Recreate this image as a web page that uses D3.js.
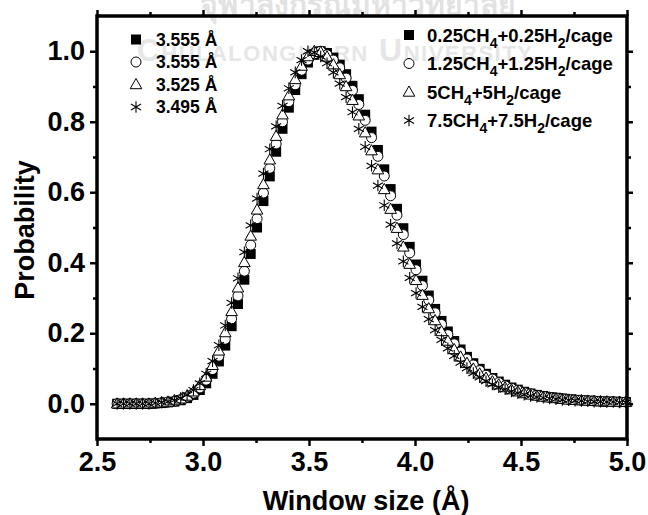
<!DOCTYPE html>
<html>
<head>
<meta charset="utf-8">
<script src="https://cdn.jsdelivr.net/npm/d3@7"></script>
<style>
body { margin: 0; background: #fff; }
svg { display: block; font-family: "Liberation Sans", Arial, sans-serif; font-weight: bold; }
</style>
</head>
<body>
<svg id="chart" width="648" height="515"></svg>
<script>
// window size grid (Å)
var windowSize = [2.595, 2.625, 2.655, 2.685, 2.715, 2.745, 2.775, 2.805, 2.835, 2.865,
    2.895, 2.925, 2.955, 2.985, 3.015, 3.045, 3.075, 3.105, 3.135, 3.165,
    3.195, 3.225, 3.255, 3.285, 3.315, 3.345, 3.375, 3.405, 3.435, 3.465,
    3.495, 3.525, 3.555, 3.585, 3.615, 3.645, 3.675, 3.705, 3.735, 3.765,
    3.795, 3.825, 3.855, 3.885, 3.915, 3.945, 3.975, 4.005, 4.035, 4.065,
    4.095, 4.125, 4.155, 4.185, 4.215, 4.245, 4.275, 4.305, 4.335, 4.365,
    4.395, 4.425, 4.455, 4.485, 4.515, 4.545, 4.575, 4.605, 4.635, 4.665,
    4.695, 4.725, 4.755, 4.785, 4.815, 4.845, 4.875, 4.905, 4.935, 4.965, 4.995];

// probability, one list per loading
var prob025 = [0, 0, 0, 0, 0, 0, 0.001, 0.002, 0.004, 0.006,
    0.010, 0.016, 0.025, 0.039, 0.058, 0.085, 0.120, 0.165, 0.220, 0.283,
    0.352, 0.425, 0.500, 0.575, 0.645, 0.715, 0.780, 0.840, 0.890, 0.935,
    0.968, 0.990, 1.000, 0.995, 0.982, 0.962, 0.935, 0.902, 0.864, 0.820,
    0.772, 0.720, 0.665, 0.609, 0.553, 0.498, 0.445, 0.395, 0.349, 0.307,
    0.269, 0.235, 0.205, 0.178, 0.154, 0.133, 0.115, 0.099, 0.085, 0.073,
    0.063, 0.054, 0.046, 0.040, 0.034, 0.029, 0.025, 0.022, 0.019, 0.017,
    0.015, 0.013, 0.011, 0.010, 0.009, 0.008, 0.007, 0.006, 0.006, 0.005, 0.005];
var prob125 = [0, 0, 0, 0, 0, 0, 0.001, 0.003, 0.005, 0.007,
    0.012, 0.019, 0.030, 0.045, 0.067, 0.097, 0.135, 0.183, 0.241, 0.306,
    0.376, 0.450, 0.525, 0.598, 0.668, 0.737, 0.800, 0.857, 0.905, 0.946,
    0.975, 0.993, 1.000, 0.990, 0.975, 0.953, 0.924, 0.889, 0.849, 0.804,
    0.755, 0.702, 0.646, 0.590, 0.535, 0.480, 0.428, 0.380, 0.335, 0.294,
    0.258, 0.225, 0.196, 0.170, 0.147, 0.127, 0.110, 0.094, 0.081, 0.070,
    0.060, 0.051, 0.044, 0.038, 0.032, 0.028, 0.024, 0.021, 0.018, 0.016,
    0.014, 0.012, 0.011, 0.010, 0.009, 0.008, 0.007, 0.006, 0.006, 0.005, 0.005];
var prob5 = [0, 0, 0, 0, 0, 0, 0.002, 0.003, 0.005, 0.009,
    0.014, 0.022, 0.034, 0.052, 0.076, 0.109, 0.150, 0.202, 0.262, 0.329,
    0.401, 0.476, 0.550, 0.622, 0.692, 0.759, 0.820, 0.874, 0.920, 0.958,
    0.985, 1.000, 0.997, 0.984, 0.962, 0.934, 0.900, 0.861, 0.817, 0.769,
    0.718, 0.664, 0.608, 0.552, 0.498, 0.445, 0.396, 0.350, 0.308, 0.270,
    0.236, 0.205, 0.178, 0.154, 0.133, 0.115, 0.099, 0.085, 0.073, 0.063,
    0.054, 0.046, 0.040, 0.034, 0.029, 0.025, 0.022, 0.019, 0.017, 0.015,
    0.013, 0.011, 0.010, 0.009, 0.008, 0.007, 0.006, 0.006, 0.005, 0.005, 0.004];
var prob75 = [0, 0, 0, 0, 0, 0, 0.002, 0.004, 0.006, 0.010,
    0.016, 0.025, 0.039, 0.058, 0.085, 0.121, 0.166, 0.222, 0.286, 0.356,
    0.430, 0.506, 0.582, 0.653, 0.722, 0.787, 0.845, 0.895, 0.940, 0.975,
    1.000, 0.997, 0.985, 0.966, 0.940, 0.908, 0.870, 0.827, 0.780, 0.729,
    0.675, 0.619, 0.563, 0.508, 0.455, 0.404, 0.357, 0.314, 0.275, 0.240,
    0.209, 0.181, 0.157, 0.136, 0.117, 0.101, 0.087, 0.075, 0.064, 0.055,
    0.047, 0.041, 0.035, 0.030, 0.026, 0.022, 0.019, 0.017, 0.015, 0.013,
    0.011, 0.010, 0.009, 0.008, 0.007, 0.006, 0.006, 0.005, 0.005, 0.004, 0.004];

var loadingLabels = ["0.25CH{4}+0.25H{2}/cage", "1.25CH{4}+1.25H{2}/cage", "5CH{4}+5H{2}/cage", "7.5CH{4}+7.5H{2}/cage"];
var peakLabels = ["3.555 Å", "3.555 Å", "3.525 Å", "3.495 Å"];
var xTicks = [2.5, 3.0, 3.5, 4.0, 4.5, 5.0];
var xMinorTicks = [2.75, 3.25, 3.75, 4.25, 4.75];
var yTicks = [0.0, 0.2, 0.4, 0.6, 0.8, 1.0];
var yMinorTicks = [0.1, 0.3, 0.5, 0.7, 0.9];

var svg = d3.select("#chart");
var plotLeft = 97, plotRight = 627, plotTop = 16, plotBottom = 439;

var x = d3.scaleLinear().domain([2.5, 5.0]).range([plotLeft, plotRight]);
var y = d3.scaleLinear().domain([-0.1, 1.1]).range([plotBottom, plotTop]);

// faint watermark behind the plot
svg.append("text").attr("x", 358).attr("y", 15).attr("text-anchor", "middle")
    .style("font-size", "30px").style("fill", "#e2e2e2")
    .text("จุฬาลงกรณ์มหาวิทยาลัย");
svg.append("text").attr("x", 335).attr("y", 61).attr("text-anchor", "middle")
    .style("font-size", "32px").style("fill", "#e6e6e6").style("font-variant", "small-caps")
    .style("letter-spacing", "1.5px")
    .text("Chulalongkorn University");

// marker shapes
var shapes = ["square", "circle", "triangle", "star"];
var allSeries = [prob025, prob125, prob5, prob75];

function drawMarker(g, shape) {
    if (shape === "square") {
        g.append("rect").attr("x", -5).attr("y", -5).attr("width", 10).attr("height", 10)
            .attr("fill", "#000");
    } else if (shape === "circle") {
        g.append("circle").attr("r", 5).attr("fill", "#fff").attr("stroke", "#000").attr("stroke-width", 1);
    } else if (shape === "triangle") {
        g.append("path").attr("d", "M0,-6L5.8,4.2L-5.8,4.2Z")
            .attr("fill", "#fff").attr("stroke", "#000").attr("stroke-width", 1);
    } else {
        var r = 5.8, c = r * Math.cos(Math.PI / 6), s = r * Math.sin(Math.PI / 6);
        g.append("path")
            .attr("d", "M0," + (-r) + "L0," + r + "M" + (-c) + "," + (-s) + "L" + c + "," + s +
                "M" + (-c) + "," + s + "L" + c + "," + (-s))
            .attr("fill", "none").attr("stroke", "#000").attr("stroke-width", 1.1);
    }
}

allSeries.forEach(function (values, k) {
    svg.append("g").selectAll("g")
        .data(values)
        .enter().append("g")
        .attr("transform", function (d, i) {
            return "translate(" + x(windowSize[i]) + "," + y(d) + ")";
        })
        .each(function () { drawMarker(d3.select(this), shapes[k]); });
});

// axes
function styleAxis(g) {
    g.select(".domain").remove();
    g.selectAll(".tick line").attr("stroke", "#000").attr("stroke-width", 2.5);
    g.selectAll(".tick text").attr("fill", "#000")
        .style("font-size", "27px").style("font-family", "'Liberation Sans', Arial, sans-serif")
        .style("font-weight", "bold");
}

svg.append("g").attr("transform", "translate(0," + plotBottom + ")")
    .call(d3.axisBottom(x).tickValues(xTicks).tickFormat(d3.format(".1f")).tickSize(7).tickPadding(6))
    .call(styleAxis);
svg.append("g").attr("transform", "translate(0," + plotBottom + ")")
    .call(d3.axisBottom(x).tickValues(xMinorTicks).tickFormat("").tickSize(4))
    .call(styleAxis);
svg.append("g").attr("transform", "translate(0," + plotTop + ")")
    .call(d3.axisTop(x).tickValues(xTicks).tickFormat("").tickSize(6))
    .call(styleAxis);
svg.append("g").attr("transform", "translate(0," + plotTop + ")")
    .call(d3.axisTop(x).tickValues(xMinorTicks).tickFormat("").tickSize(4))
    .call(styleAxis);

svg.append("g").attr("transform", "translate(" + plotLeft + ",0)")
    .call(d3.axisLeft(y).tickValues(yTicks).tickFormat(d3.format(".1f")).tickSize(7).tickPadding(5))
    .call(styleAxis);
svg.append("g").attr("transform", "translate(" + plotLeft + ",0)")
    .call(d3.axisLeft(y).tickValues(yMinorTicks).tickFormat("").tickSize(4))
    .call(styleAxis);
svg.append("g").attr("transform", "translate(" + plotRight + ",0)")
    .call(d3.axisRight(y).tickValues(yTicks).tickFormat("").tickSize(6))
    .call(styleAxis);
svg.append("g").attr("transform", "translate(" + plotRight + ",0)")
    .call(d3.axisRight(y).tickValues(yMinorTicks).tickFormat("").tickSize(4))
    .call(styleAxis);

// frame
svg.append("rect").attr("x", plotLeft).attr("y", plotTop)
    .attr("width", plotRight - plotLeft).attr("height", plotBottom - plotTop)
    .attr("fill", "none").attr("stroke", "#000").attr("stroke-width", 3.5);

// axis titles
svg.append("text").attr("x", 366).attr("y", 510).attr("text-anchor", "middle")
    .style("font-size", "27px").text("Window size (Å)");
svg.append("text").attr("transform", "translate(34,230) rotate(-90)").attr("text-anchor", "middle")
    .style("font-size", "27px").text("Probability");

// left legend: peak positions
var leftRows = [39.5, 62, 84.5, 107];
peakLabels.forEach(function (label, k) {
    var g = svg.append("g").attr("transform", "translate(136," + leftRows[k] + ")");
    drawMarker(g, shapes[k]);
    svg.append("text").attr("x", 156).attr("y", leftRows[k]).attr("dy", "0.36em")
        .style("font-size", "17.5px").text(label);
});

// right legend: loadings with subscripts
var rightRows = [35, 63.5, 92, 120.5];
loadingLabels.forEach(function (label, k) {
    var g = svg.append("g").attr("transform", "translate(409," + rightRows[k] + ")");
    drawMarker(g, shapes[k]);
    var t = svg.append("text").attr("x", 427).attr("y", rightRows[k]).attr("dy", "0.36em")
        .style("font-size", "18.5px");
    var parts = label.split(/(\{\d\})/);
    var shifted = false;
    parts.forEach(function (p) {
        if (!p) return;
        if (p[0] === "{") {
            t.append("tspan").attr("dy", 6).style("font-size", "14px").text(p.slice(1, -1));
            shifted = true;
        } else {
            t.append("tspan").attr("dy", shifted ? -6 : null).text(p);
            shifted = false;
        }
    });
});
</script>
</body>
</html>
